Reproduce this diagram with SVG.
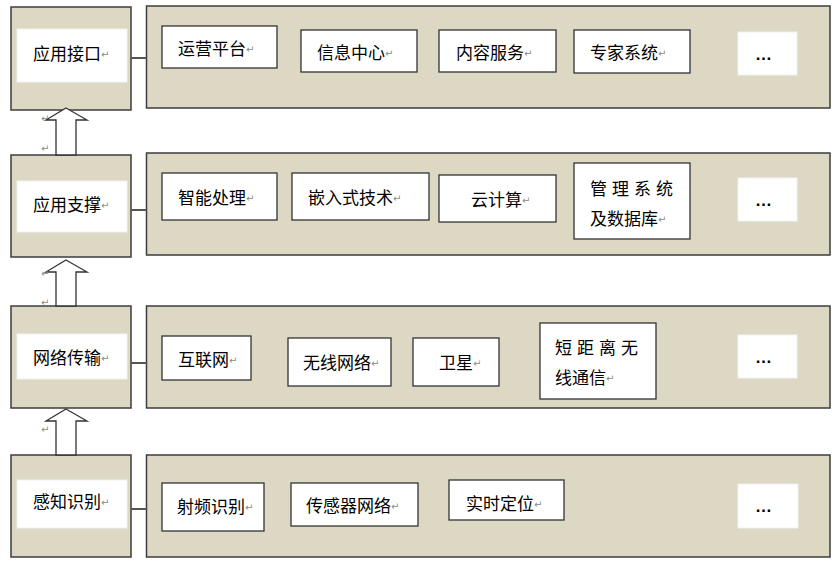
<svg xmlns="http://www.w3.org/2000/svg" width="840" height="562" viewBox="0 0 840 562">
<style>
.panel{fill:#DDD8C3;stroke:#3c3c3c;stroke-width:1.5}
.box{fill:#fff;stroke:#333;stroke-width:1.3}
.plain{fill:#fff;stroke:#f2f2f2;stroke-width:1}
.t{font-family:"Liberation Sans","Noto Sans CJK SC",sans-serif;font-size:17px;fill:#000;dominant-baseline:central}
.dots{font-family:"Liberation Sans",sans-serif;font-size:17px;font-weight:bold;fill:#000;dominant-baseline:central}
.sp{letter-spacing:5px}
.pm{font-family:"DejaVu Sans",sans-serif;font-size:10px;fill:#8a8a8a;dominant-baseline:central}
.conn{stroke:#555;stroke-width:2;fill:none}
.arrow{fill:#fff;stroke:#333;stroke-width:1.3}
</style>
<rect width="840" height="562" fill="#fff"/>

<!-- Row 1 -->
<g id="layer-app-interface">
<rect class="panel" x="11" y="7" width="120" height="103"/>
<rect class="plain" x="17" y="29" width="110" height="53"/>
<text class="t" x="33" y="54">应用接口<tspan class="pm">↵</tspan></text>
</g>
<g id="panel-app-interface">
<rect class="panel" x="146.5" y="6" width="683.5" height="102"/>
</g>
<g id="n-yunying"><rect class="box" x="162" y="26" width="115" height="42"/><text class="t" x="178" y="49">运营平台<tspan class="pm">↵</tspan></text></g>
<g id="n-xinxi"><rect class="box" x="301" y="30" width="116" height="42"/><text class="t" x="317" y="53">信息中心<tspan class="pm">↵</tspan></text></g>
<g id="n-neirong"><rect class="box" x="439" y="30" width="117" height="42"/><text class="t" x="456" y="53">内容服务<tspan class="pm">↵</tspan></text></g>
<g id="n-zhuanjia"><rect class="box" x="574" y="30" width="116" height="43"/><text class="t" x="590" y="53">专家系统<tspan class="pm">↵</tspan></text></g>
<g id="n-more1"><rect class="plain" x="738" y="32" width="59" height="43"/><text class="dots" x="755" y="54">…</text></g>

<!-- Row 2 -->
<g id="layer-app-support">
<rect class="panel" x="11" y="155" width="120" height="102"/>
<rect class="plain" x="17" y="181" width="110" height="51"/>
<text class="t" x="33" y="205">应用支撑<tspan class="pm">↵</tspan></text>
</g>
<g id="panel-app-support">
<rect class="panel" x="146.5" y="153" width="683.5" height="102"/>
</g>
<g id="n-zhineng"><rect class="box" x="162" y="173" width="115" height="47"/><text class="t" x="178" y="198">智能处理<tspan class="pm">↵</tspan></text></g>
<g id="n-qianru"><rect class="box" x="292" y="173" width="137" height="47"/><text class="t" x="308" y="198">嵌入式技术<tspan class="pm">↵</tspan></text></g>
<g id="n-yunjisuan"><rect class="box" x="439" y="175" width="117" height="47"/><text class="t" x="471" y="200">云计算<tspan class="pm">↵</tspan></text></g>
<g id="n-guanli"><rect class="box" x="574" y="163" width="116" height="76"/>
<text class="t sp" x="590" y="189">管理系统</text>
<text class="t" x="590" y="219">及数据库<tspan class="pm">↵</tspan></text></g>
<g id="n-more2"><rect class="plain" x="738" y="178" width="59" height="43"/><text class="dots" x="755" y="200">…</text></g>

<!-- Row 3 -->
<g id="layer-network">
<rect class="panel" x="11" y="306" width="120" height="102"/>
<rect class="plain" x="17" y="334" width="110" height="45"/>
<text class="t" x="33" y="358">网络传输<tspan class="pm">↵</tspan></text>
</g>
<g id="panel-network">
<rect class="panel" x="146.5" y="306" width="683.5" height="102"/>
</g>
<g id="n-hulianwang"><rect class="box" x="162" y="336" width="89" height="44"/><text class="t" x="178" y="360">互联网<tspan class="pm">↵</tspan></text></g>
<g id="n-wuxian"><rect class="box" x="288" y="338" width="103" height="48"/><text class="t" x="303" y="363">无线网络<tspan class="pm">↵</tspan></text></g>
<g id="n-weixing"><rect class="box" x="413" y="338" width="86" height="48"/><text class="t" x="439" y="363">卫星<tspan class="pm">↵</tspan></text></g>
<g id="n-duanju"><rect class="box" x="540" y="323" width="116" height="76"/>
<text class="t sp" x="555" y="348">短距离无</text>
<text class="t" x="555" y="378">线通信<tspan class="pm">↵</tspan></text></g>
<g id="n-more3"><rect class="plain" x="738" y="335" width="59" height="43"/><text class="dots" x="755" y="357">…</text></g>

<!-- Row 4 -->
<g id="layer-sensing">
<rect class="panel" x="11" y="455" width="120" height="102"/>
<rect class="plain" x="17" y="480" width="110" height="48"/>
<text class="t" x="33" y="502">感知识别<tspan class="pm">↵</tspan></text>
</g>
<g id="panel-sensing">
<rect class="panel" x="146.5" y="455" width="683.5" height="102"/>
</g>
<g id="n-shepin"><rect class="box" x="162" y="483" width="102" height="48"/><text class="t" x="177" y="507">射频识别<tspan class="pm">↵</tspan></text></g>
<g id="n-chuanganqi"><rect class="box" x="291" y="483" width="127" height="43"/><text class="t" x="306" y="506">传感器网络<tspan class="pm">↵</tspan></text></g>
<g id="n-shishi"><rect class="box" x="449" y="480" width="115" height="40"/><text class="t" x="466" y="504">实时定位<tspan class="pm">↵</tspan></text></g>
<g id="n-more4"><rect class="plain" x="738" y="484" width="60" height="44"/><text class="dots" x="755" y="506">…</text></g>

<!-- Connectors -->
<g id="connectors">
<line class="conn" x1="131" y1="58" x2="146.5" y2="58"/>
<line class="conn" x1="131" y1="210" x2="146.5" y2="210"/>
<line class="conn" x1="131" y1="363" x2="146.5" y2="363"/>
<line class="conn" x1="131" y1="509" x2="146.5" y2="509"/>
<path class="arrow" d="M66,108 L87,120 L76,120 L76,155 L56,155 L56,120 L46,120 Z"/>
<path class="arrow" d="M66,260 L87,272 L76,272 L76,306 L56,306 L56,272 L46,272 Z"/>
<path class="arrow" d="M66,409 L87,421 L76,421 L76,455 L56,455 L56,421 L46,421 Z"/>
</g>

<g id="marks">
<text class="pm" x="41" y="118">↵</text>
<text class="pm" x="41" y="148">↵</text>
<text class="pm" x="41" y="273">↵</text>
<text class="pm" x="41" y="302">↵</text>
<text class="pm" x="41" y="429">↵</text>
</g>
</svg>
